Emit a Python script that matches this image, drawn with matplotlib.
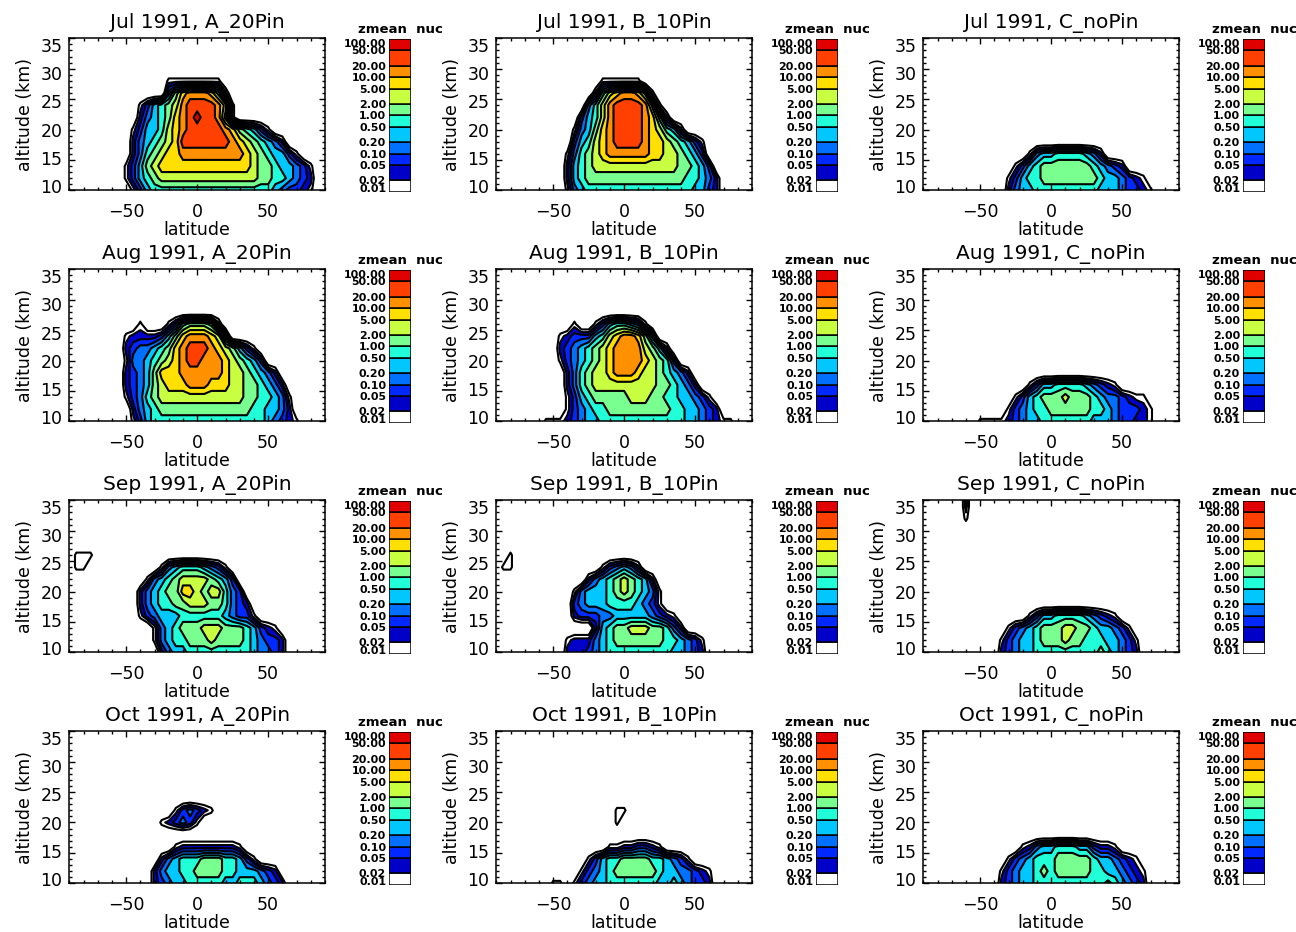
import numpy as np
import matplotlib
matplotlib.use("Agg")
import matplotlib.pyplot as plt
from matplotlib.transforms import ScaledTranslation
from matplotlib.ticker import MultipleLocator

# ---------------- data ----------------
LATITUDE = np.arange(-90, 91, 5)          # 37 columns
ALTITUDE = np.arange(36, 9, -2)           # 14 rows, top -> bottom
LEVELS = [0.01, 0.02, 0.05, 0.1, 0.2, 0.5, 1, 2, 5, 10, 20, 50, 100]
BAND_COLORS = ["#ffffff", "#0000c8", "#0028ff", "#0070ff", "#00c8ff", "#20ffd8",
               "#78ff90", "#c8ff40", "#ffe000", "#ff9000", "#ff4000", "#e00000"]
MONTHS = ["Jul 1991", "Aug 1991", "Sep 1991", "Oct 1991"]
RUNS = ["A_20Pin", "B_10Pin", "C_noPin"]
CBAR_TITLE = "zmean  nuc"
EMPTY_VALUE = 0.0025   # value read as "below lowest level"

# band codes per grid cell (0 = below 0.01, 1..c = colour band)
Z = "00000 00000 00000 00000 00000 00000 00000 00"

JUL_A = [Z] * 4 + [
    "00000 00000 00001 11111 11000 00000 00000 00",
    "00000 00000 00004 79aaa 97200 00000 00000 00",
    "00000 00000 13567 8abbb ba810 00000 00000 00",
    "00000 00000 24567 9abcb ba710 00000 00000 00",
    "00000 00001 35568 9abbb bba97 65310 00000 00",
    "00000 00002 45678 9bbbb bbba9 87654 20000 00",
    "00000 00002 46789 9aaaa aaaaa 98765 53100 00",
    "00000 00013 57899 99999 99999 98776 55431 00",
    "00000 00013 56788 88888 88888 88776 65432 00",
    "00000 00001 35666 66666 66666 66665 43321 00",
]
JUL_B = [Z] * 4 + [
    "00000 00000 00000 11111 10000 00000 00000 00",
    "00000 00000 00002 689aa 97100 00000 00000 00",
    "00000 00000 00046 8abbb ba710 00000 00000 00",
    "00000 00000 00356 8abbb ba962 00000 00000 00",
    "00000 00000 01457 9abbb ba986 52000 00000 00",
    "00000 00000 03568 9abbb ba998 76531 00000 00",
    "00000 00000 14678 9aaaa aa998 87653 00000 00",
    "00000 00000 25678 88888 88888 87765 30000 00",
    "00000 00000 25677 77777 77777 77665 42000 00",
    "00000 00000 14566 66666 66666 66655 32000 00",
]
JUL_C = [Z] * 10 + [
    "00000 00000 00000 14556 66654 20000 00000 00",
    "00000 00000 00013 56777 77776 54320 00000 00",
    "00000 00000 00135 66777 77777 65543 21000 00",
    "00000 00000 00245 56666 66666 55543 32100 00",
]
AUG_A = [Z] * 5 + [
    "00000 00000 10001 36777 62000 00000 00000 00",
    "00000 00012 22235 79aaa 98400 00000 00000 00",
    "00000 00023 44567 9abbb a9875 31000 00000 00",
    "00000 00014 45678 9abba aa987 65300 00000 00",
    "00000 00023 45799 9aaaa aa988 76542 00000 00",
    "00000 00023 45789 99aaa 99988 77654 20000 00",
    "00000 00013 46788 88888 88888 77665 41000 00",
    "00000 00002 45677 77777 77777 76655 42000 00",
    "00000 00001 35666 66666 66666 66654 32100 00",
]
AUG_B = [Z] * 5 + [
    "00000 00000 01001 35665 41000 00000 00000 00",
    "00000 00001 23335 689aa 97400 00000 00000 00",
    "00000 00002 34567 89aaa a8752 00000 00000 00",
    "00000 00001 34567 89aaa a9876 30000 00000 00",
    "00000 00000 24678 89aaa 98876 54200 00000 00",
    "00000 00000 24678 88888 88877 65420 00000 00",
    "00000 00000 13567 77778 88776 65543 10000 00",
    "00000 00000 13456 67777 77777 66554 32000 00",
    "00000 00111 23455 66666 66666 66554 32110 00",
]
AUG_C = [Z] * 10 + [
    "00000 00000 00000 13556 66654 32100 00000 00",
    "00000 00000 00013 56777 87776 54432 11000 00",
    "00000 00000 00134 56677 77776 65433 32100 00",
    "00000 00011 11234 55666 66665 55433 22100 00",
]
SEP_A = [Z] * 5 + [
    "01110 00000 00000 00000 00000 00000 00000 00",
    "01100 00000 00014 56665 43100 00000 00000 00",
    "00000 00000 01456 78888 76530 00000 00000 00",
    "00000 00000 24567 79987 88643 00000 00000 00",
    "00000 00000 24566 77888 77643 20000 00000 00",
    "00000 00000 13455 56666 66543 31000 00000 00",
    "00000 00000 00145 67778 88777 65321 00000 00",
    "00000 00000 00145 66777 87777 65433 20000 00",
    "00000 00000 00024 55666 66666 65443 20000 00",
]
SEP_B = [Z] * 5 + [
    "00100 00000 00000 00000 00000 00000 00000 00",
    "01100 00000 00000 13454 20000 00000 00000 00",
    "00000 00000 00024 56787 65200 00000 00000 00",
    "00000 00000 01455 56787 65410 00000 00000 00",
    "00000 00000 03455 56666 54310 00000 00000 00",
    "00000 00000 02333 44555 55432 10000 00000 00",
    "00000 00000 00002 56778 88776 42000 00000 00",
    "00000 00000 12224 56777 77776 65431 00000 00",
    "00000 00000 22234 56666 66666 55432 00000 00",
]
SEP_C = [
    "00000 02000 00000 00000 00000 00000 00000 00",
    "00000 02000 00000 00000 00000 00000 00000 00",
    "00000 01000 00000 00000 00000 00000 00000 00",
] + [Z] * 7 + [
    "00000 00000 00000 13556 66654 32100 00000 00",
    "00000 00000 00134 56777 88776 55431 00000 00",
    "00000 00000 01345 56777 87766 65543 10000 00",
    "00000 00000 02345 56666 66666 76543 20000 00",
]
OCT_A = [Z] * 7 + [
    "00000 00000 00000 13432 10000 00000 00000 00",
    "00000 00000 00012 34310 00000 00000 00000 00",
    Z,
    "00000 00000 00000 12222 22221 00000 00000 00",
    "00000 00000 00024 56667 77665 31000 00000 00",
    "00000 00000 00245 56677 77665 55432 00000 00",
    "00000 00000 00234 55666 66556 66543 20000 00",
]
OCT_B = [Z] * 7 + [
    "00000 00000 00000 00110 00000 00000 00000 00",
    "00000 00000 00000 00100 00000 00000 00000 00",
    Z,
    "00000 00000 00000 01122 33210 00000 00000 00",
    "00000 00000 00013 56677 77665 43100 00000 00",
    "00000 00000 00134 56777 77765 54432 10000 00",
    "00000 00011 01345 56666 66655 65433 20000 00",
]
OCT_C = [Z] * 10 + [
    "00000 00000 00001 24556 66553 22100 00000 00",
    "00000 00000 00134 56667 77776 55432 10000 00",
    "00000 00000 01345 56767 77776 65543 21000 00",
    "00000 00000 02345 56666 66666 67654 32000 00",
]

PANELS = [[JUL_A, JUL_B, JUL_C],
          [AUG_A, AUG_B, AUG_C],
          [SEP_A, SEP_B, SEP_C],
          [OCT_A, OCT_B, OCT_C]]

# ---------------- helpers ----------------
LEV = np.array(LEVELS, dtype=float)
LOGLEV = np.log10(LEV)


def rows_to_values(rows):
    codes = np.array([[int(ch, 16) for ch in r.replace(" ", "")] for r in rows])
    assert codes.shape == (len(ALTITUDE), len(LATITUDE)), codes.shape
    idx = np.clip(codes, 1, 12)
    vals = np.sqrt(LEV[idx - 1] * LEV[idx])
    return np.where(codes == 0, EMPTY_VALUE, vals)


def level_coord(values):
    lv = np.log10(values)
    c = np.interp(lv, LOGLEV, np.arange(len(LEV)))
    below = lv < LOGLEV[0]
    c[below] = (lv[below] - LOGLEV[0]) / (LOGLEV[1] - LOGLEV[0])
    return c


# ---------------- figure ----------------
W, H = 1296, 932
fig = plt.figure(figsize=(W / 100, H / 100), dpi=100)
plt.rcParams["font.family"] = ["DejaVu Sans"]

alt_up = ALTITUDE[::-1]
lev_idx = np.arange(len(LEV))

for r in range(4):
    for c in range(3):
        left = 69.3 + 427 * c
        top = 38.3 + 231 * r
        ax = fig.add_axes([left / W, 1 - (top + 152) / H, 255.7 / W, 152 / H])
        vals = rows_to_values(PANELS[r][c])[::-1]
        coord = level_coord(vals)
        ax.contourf(LATITUDE, alt_up, coord, levels=lev_idx, colors=BAND_COLORS)
        ax.contour(LATITUDE, alt_up, coord, levels=lev_idx, colors="black",
                   linewidths=1.5)
        ax.set_xlim(-90, 90)
        ax.set_ylim(10, 35)
        ax.set_xticks([-50, 0, 50])
        ax.set_yticks([10, 15, 20, 25, 30, 35])
        ax.xaxis.set_minor_locator(MultipleLocator(10))
        ax.yaxis.set_minor_locator(MultipleLocator(1))
        ax.tick_params(which="both", direction="in", top=True, right=True,
                       labelsize=12.5, width=1)
        ax.tick_params(which="major", length=4.5)
        ax.tick_params(which="minor", length=2.3)
        ax.tick_params(axis="x", pad=9)
        ax.tick_params(axis="y", pad=5)
        for sp in ax.spines.values():
            sp.set_linewidth(1.1)
        # compressed vertical placement of y labels like the reference
        for lab, v in zip(ax.get_yticklabels(), [10, 15, 20, 25, 30, 35]):
            off = 7 - (35 - v) * 0.46
            lab.set_transform(lab.get_transform() +
                              ScaledTranslation(0, -off / 100, fig.dpi_scale_trans))
        ax.text(0.5, 1 + 10 / 152, f"{MONTHS[r]}, {RUNS[c]}", transform=ax.transAxes,
                ha="center", va="baseline", fontsize=14.5)
        ax.text(-0.175, 0.5, "altitude (km)", transform=ax.transAxes, rotation=90,
                ha="center", va="center", fontsize=12.5)
        ax.text(0.5, -0.262, "latitude", transform=ax.transAxes, ha="center",
                va="center", fontsize=12.5)

        # colour bar
        cleft = 389.3 + 427 * c
        ctop = 39 + 231 * r
        cax = fig.add_axes([cleft / W, 1 - (ctop + 152.7) / H, 21.4 / W, 152.7 / H])
        cax.set_yscale("log")
        cax.set_ylim(LEV[0], LEV[-1])
        cax.set_xlim(0, 1)
        for k in range(len(LEV) - 1):
            cax.axhspan(LEV[k], LEV[k + 1], xmin=0, xmax=1,
                        facecolor=BAND_COLORS[k], edgecolor="black", linewidth=1.1)
        for sp in cax.spines.values():
            sp.set_visible(False)
        cax.set_xticks([])
        cax.set_yticks(LEV)
        cax.yaxis.set_minor_locator(plt.NullLocator())
        cax.set_yticklabels([f"{v:.2f}" for v in LEV], fontsize=7.9,
                            fontweight="bold")
        cax.tick_params(axis="y", length=0, pad=2.2)
        labs = cax.get_yticklabels()
        labs[0].set_transform(labs[0].get_transform() +
                              ScaledTranslation(0, 3.3 / 100, fig.dpi_scale_trans))
        labs[-1].set_transform(labs[-1].get_transform() +
                               ScaledTranslation(0, -4.3 / 100, fig.dpi_scale_trans))
        cax.text(0.5, 1 + 6 / 152.7, CBAR_TITLE, transform=cax.transAxes,
                 ha="center", va="baseline", fontsize=9.5, fontweight="bold")

fig.savefig("out.png", dpi=100)
